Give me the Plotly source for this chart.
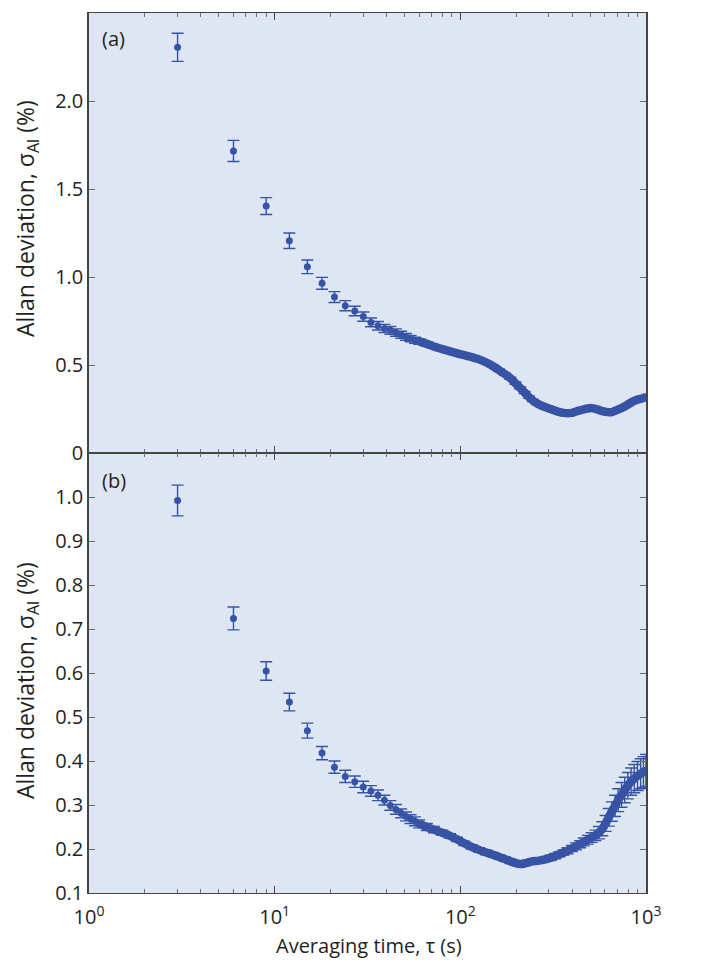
import plotly.graph_objects as go
from plotly.subplots import make_subplots

# ---------------- data ----------------
tau_a = [3, 6, 9, 12, 15, 18, 21, 24, 27, 30, 33, 36, 39, 42, 45, 48, 51, 54, 57, 60,
         66, 72, 80, 88, 96, 105, 115, 126, 138, 150, 162, 174, 186, 198, 210, 222, 234,
         246, 261, 276, 291, 306, 324, 342, 360, 378, 399, 420, 441, 462, 486, 510, 534,
         558, 582, 606, 630, 654, 681, 708, 738, 768, 798, 831, 864, 900, 936, 969, 999]
sigma_a = [2.305, 1.716, 1.403, 1.206, 1.058, 0.964, 0.886, 0.837, 0.807, 0.775, 0.742,
           0.723, 0.708, 0.697, 0.684, 0.672, 0.660, 0.650, 0.641, 0.634,
           0.620, 0.605, 0.590, 0.577, 0.566, 0.556, 0.545, 0.532, 0.514, 0.493, 0.470,
           0.448, 0.425, 0.397, 0.370, 0.344, 0.318, 0.298, 0.280, 0.267, 0.258, 0.250,
           0.240, 0.232, 0.228, 0.226, 0.228, 0.236, 0.242, 0.248, 0.253, 0.255, 0.251,
           0.245, 0.238, 0.234, 0.231, 0.232, 0.240, 0.247, 0.255, 0.264, 0.275, 0.287,
           0.296, 0.303, 0.308, 0.313, 0.318]
err_a = [0.080, 0.060, 0.048, 0.044, 0.039, 0.034, 0.031, 0.029, 0.027, 0.026, 0.025,
         0.024, 0.023, 0.022, 0.021, 0.020, 0.019, 0.018, 0.017, 0.016,
         0.012, 0.010, 0.008, 0.007, 0.006, 0.006, 0.006, 0.006, 0.006, 0.006, 0.006,
         0.006, 0.006, 0.006, 0.006, 0.006, 0.006, 0.006, 0.006, 0.006, 0.006, 0.006,
         0.005, 0.005, 0.005, 0.005, 0.005, 0.005, 0.005, 0.005, 0.005, 0.005, 0.005,
         0.005, 0.005, 0.005, 0.005, 0.005, 0.006, 0.006, 0.006, 0.006, 0.006, 0.006,
         0.006, 0.006, 0.006, 0.006, 0.006]

tau_b = tau_a
sigma_b = [0.992, 0.724, 0.6045, 0.534, 0.469, 0.418, 0.386, 0.365, 0.353, 0.341, 0.332,
           0.322, 0.311, 0.299, 0.290, 0.281, 0.274, 0.268, 0.263, 0.257,
           0.250, 0.244, 0.237, 0.230, 0.222, 0.213, 0.205, 0.198, 0.192, 0.187, 0.182,
           0.177, 0.172, 0.168, 0.166, 0.167, 0.170, 0.172, 0.173, 0.175, 0.177, 0.180,
           0.184, 0.188, 0.192, 0.196, 0.201, 0.206, 0.211, 0.216, 0.221, 0.226, 0.231,
           0.237, 0.246, 0.258, 0.272, 0.285, 0.298, 0.311, 0.323, 0.334, 0.344, 0.353,
           0.360, 0.366, 0.371, 0.375, 0.379]
err_b = [0.035, 0.026, 0.021, 0.020, 0.017, 0.015, 0.014, 0.014, 0.013, 0.013, 0.012,
         0.012, 0.011, 0.011, 0.011, 0.010, 0.010, 0.010, 0.010, 0.009,
         0.008, 0.007, 0.006, 0.005, 0.005, 0.005, 0.005, 0.005, 0.005, 0.005, 0.005,
         0.005, 0.005, 0.005, 0.005, 0.005, 0.005, 0.005, 0.005, 0.005, 0.005, 0.006,
         0.006, 0.006, 0.006, 0.007, 0.007, 0.008, 0.008, 0.009, 0.010, 0.011, 0.012,
         0.014, 0.016, 0.018, 0.020, 0.022, 0.024, 0.026, 0.028, 0.029, 0.030, 0.031,
         0.032, 0.033, 0.034, 0.035, 0.036]

N_DISCRETE = 19  # index where the dense band starts

x_major = [1, 10, 100, 1000]
x_major_text = ["10<sup>0</sup>", "10<sup>1</sup>", "10<sup>2</sup>", "10<sup>3</sup>"]
x_minor = [m * d for d in (1, 10, 100) for m in range(2, 10)]

ya_ticks = [0, 0.5, 1.0, 1.5, 2.0, 2.5]
ya_text = ["0", "0.5", "1.0", "1.5", "2.0", "2.5"]
yb_ticks = [0.1, 0.2, 0.3, 0.4, 0.5, 0.6, 0.7, 0.8, 0.9, 1.0]
yb_text = ["0.1", "0.2", "0.3", "0.4", "0.5", "0.6", "0.7", "0.8", "0.9", "1.0"]

# ---------------- styling ----------------
BLUE = "#3753a5"
BG = "#dfe6f3"
AXIS = "#454545"
TICK = "#6e6e6e"
FONT = "Open Sans"
TXT = "#231f20"

fig = make_subplots(rows=2, cols=1, shared_xaxes=True, vertical_spacing=0)

for row, (t, s, e) in enumerate([(tau_a, sigma_a, err_a), (tau_b, sigma_b, err_b)], start=1):
    fig.add_trace(go.Scatter(x=t[N_DISCRETE:], y=s[N_DISCRETE:], mode="lines",
                             line=dict(color=BLUE, width=8.5, shape="spline",
                                       smoothing=0.8),
                             hoverinfo="skip", showlegend=False), row=row, col=1)
    fig.add_trace(go.Scatter(x=t, y=s, mode="markers",
                             marker=dict(color=BLUE, size=7),
                             error_y=dict(type="data", array=e, color=BLUE,
                                          thickness=1.4, width=6),
                             showlegend=False), row=row, col=1)

xaxis_common = dict(type="log", range=[0, 3], showgrid=False, zeroline=False,
                    showline=True, linecolor=AXIS, linewidth=1.2, mirror="ticks",
                    ticks="inside", ticklen=7, tickwidth=1, tickcolor=AXIS,
                    tickvals=x_major, ticktext=x_major_text, ticklabelstandoff=6,
                    minor=dict(tickvals=x_minor, ticks="inside", ticklen=4,
                               tickcolor=TICK, tickwidth=1, showgrid=False),
                    tickfont=dict(family=FONT, size=20, color=TXT))
fig.update_xaxes(**xaxis_common)
fig.update_xaxes(showticklabels=False, row=1, col=1)

yaxis_common = dict(showgrid=False, zeroline=False, showline=True, linecolor=AXIS,
                    linewidth=1.5, mirror="ticks", ticks="inside", ticklen=6,
                    tickwidth=1, tickcolor=TICK,
                    tickfont=dict(family=FONT, size=20, color=TXT))
fig.update_yaxes(**yaxis_common)
fig.update_yaxes(range=[0, 2.5], tickvals=ya_ticks, ticktext=ya_text, row=1, col=1)
fig.update_yaxes(range=[0.1, 1.1], tickvals=yb_ticks, ticktext=yb_text, row=2, col=1)

ytitle = "Allan deviation, \u03c3<sub>Al</sub> (%)"
annos = [
    dict(text=ytitle, xref="paper", yref="paper", x=-0.111, y=0.766, textangle=-90,
         showarrow=False, font=dict(family=FONT, size=23, color=TXT),
         xanchor="center", yanchor="middle"),
    dict(text=ytitle, xref="paper", yref="paper", x=-0.111, y=0.241, textangle=-90,
         showarrow=False, font=dict(family=FONT, size=23, color=TXT),
         xanchor="center", yanchor="middle"),
    dict(text="(a)", xref="paper", yref="paper", x=0.019, y=0.971, showarrow=False,
         font=dict(family=FONT, size=20, color=TXT), xanchor="left", yanchor="middle"),
    dict(text="(b)", xref="paper", yref="paper", x=0.019, y=0.469, showarrow=False,
         font=dict(family=FONT, size=20, color=TXT), xanchor="left", yanchor="middle"),
    dict(text="Averaging time, \u03c4 (s)", xref="paper", yref="paper", x=0.503,
         y=-0.0594, showarrow=False, font=dict(family=FONT, size=20, color=TXT),
         xanchor="center", yanchor="middle"),
]

# margins compensate for the 8px page margin of the HTML body
fig.update_layout(width=704, height=967, plot_bgcolor=BG, paper_bgcolor="white",
                  margin=dict(l=81, r=66, t=5, b=82), annotations=annos,
                  font=dict(family=FONT, color=TXT))
fig.update_layout(yaxis=dict(domain=[0.5, 1.0]), yaxis2=dict(domain=[0.0, 0.5]))

fig.write_html("out.html")
